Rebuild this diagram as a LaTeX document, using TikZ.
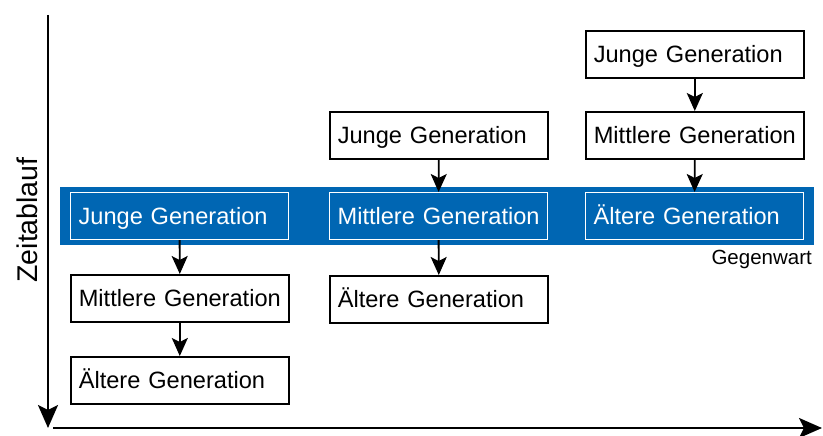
\documentclass[tikz,border=0pt]{standalone}
\usepackage{fontspec}
\setmainfont{Liberation Sans}
\usetikzlibrary{arrows.meta}
\definecolor{bandblue}{RGB}{0,102,179}
\tikzset{
  genbox/.style={anchor=north west, draw=black, line width=1.6pt, fill=white,
    minimum height=47pt, text width=202pt, inner xsep=8pt, inner ysep=0pt, align=left,
    text height=17pt, text depth=0pt, font=\fontsize{23.6}{27}\selectfont},
  nowbox/.style={genbox, draw=white, line width=1.2pt, fill=bandblue, text=white},
  conn/.style={line width=1.8pt, -{Stealth[length=18pt,width=16pt,inset=4pt]}},
  axis/.style={line width=2.6pt, -{Stealth[length=23pt,width=20pt,inset=5pt]}}
}
\begin{document}
\begin{tikzpicture}[x=1pt,y=-1pt]
\useasboundingbox (0,0) rectangle (823,436);
\fill[bandblue] (60,187) rectangle (814,245);
% column 1
\node[nowbox] (j1) at (70,192) {\mbox{Junge Generation}};
\node[genbox] (m1) at (70,274) {\mbox{Mittlere Generation}};
\node[genbox] (a1) at (70,356) {\mbox{Ältere Generation}};
% column 2
\node[genbox] (j2) at (329,111) {\mbox{Junge Generation}};
\node[nowbox] (m2) at (329,192) {\mbox{Mittlere Generation}};
\node[genbox] (a2) at (329,275) {\mbox{Ältere Generation}};
% column 3
\node[genbox] (j3) at (585,30) {\mbox{Junge Generation}};
\node[genbox] (m3) at (585,111) {\mbox{Mittlere Generation}};
\node[nowbox] (a3) at (585,192) {\mbox{Ältere Generation}};
% connectors
\draw[conn] (j1.south) -- (m1.north);
\draw[conn] (m1.south) -- (a1.north);
\draw[conn] (j2.south) -- (m2.north);
\draw[conn] (m2.south) -- (a2.north);
\draw[conn] (j3.south) -- (m3.north);
\draw[conn] (m3.south) -- (a3.north);
% labels
\node[anchor=base east, inner sep=0pt, font=\fontsize{20.5}{24}\selectfont] (now) at (812,264) {Gegenwart};
\node[rotate=90, inner sep=0pt, font=\fontsize{28.5}{32}\selectfont] (zeit) at (27,220) {Zeitablauf};
% axes
\coordinate (vtop) at (48,15);
\coordinate (vend) at (48,428);
\coordinate (hstart) at (53,428);
\coordinate (hend) at (822,428);
\draw[axis] (vtop) -- (vend);
\draw[axis] (hstart) -- (hend);
\end{tikzpicture}
\end{document}
